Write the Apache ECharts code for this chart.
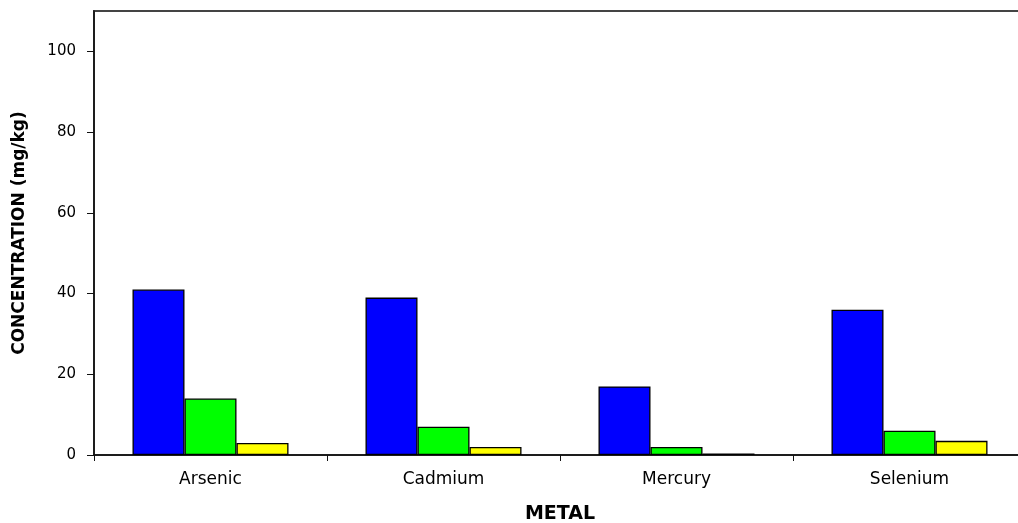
<!DOCTYPE html>
<html>
<head>
<meta charset="utf-8">
<script src="https://cdn.jsdelivr.net/npm/echarts@6/dist/echarts.min.js"></script>
<style>
html,body{margin:0;padding:0;background:#fff;}
#chart{width:1018px;height:523px;}
</style>
</head>
<body>
<div id="chart"></div>
<script>
var categories = ['Arsenic', 'Cadmium', 'Mercury', 'Selenium'];
var seriesBlue = [41, 39, 17, 36];
var seriesGreen = [14, 7, 2, 6];
var seriesYellow = [3, 2, 0.4, 3.5];
var yTicks = [0, 20, 40, 60, 80, 100];

var chart = echarts.init(document.getElementById('chart'), null, {renderer: 'canvas'});
var font = 'DejaVu Sans';
function bar(data, color) {
  return {
    type: 'bar', data: data, barWidth: 52, barGap: '0%',
    itemStyle: {color: color, borderColor: '#000', borderWidth: 1.3},
    animation: false
  };
}
chart.setOption({
  animation: false,
  backgroundColor: '#fff',
  grid: {left: 94, top: 11, width: 932, height: 444, show: true,
         containLabel: false, outerBoundsMode: 'none',
         borderColor: '#444', borderWidth: 2, backgroundColor: 'transparent'},
  xAxis: {
    type: 'category', data: categories, boundaryGap: true,
    name: 'METAL', nameLocation: 'middle', nameGap: 50,
    nameTextStyle: {fontFamily: font, fontWeight: 'bold', fontSize: 19, color: '#000'},
    axisLine: {lineStyle: {color: '#111', width: 1.5}},
    axisTick: {show: true, length: 6, lineStyle: {color: '#111'}},
    axisLabel: {fontFamily: font, fontSize: 17, color: '#000', margin: 16}
  },
  yAxis: {
    type: 'value', min: 0, max: 110, interval: 20,
    name: 'CONCENTRATION (mg/kg)', nameLocation: 'middle', nameGap: 66, nameRotate: 90,
    nameTextStyle: {fontFamily: font, fontWeight: 'bold', fontSize: 17, color: '#000'},
    axisLine: {show: true, lineStyle: {color: '#111', width: 1.5}},
    axisTick: {show: true, length: 7, customValues: yTicks, lineStyle: {color: '#111'}},
    axisLabel: {fontFamily: font, fontSize: 15, color: '#000', margin: 18, customValues: yTicks},
    splitLine: {show: false}
  },
  series: [bar(seriesBlue, '#0000FF'), bar(seriesGreen, '#00FF00'), bar(seriesYellow, '#FFFF00')]
});
</script>
</body>
</html>
